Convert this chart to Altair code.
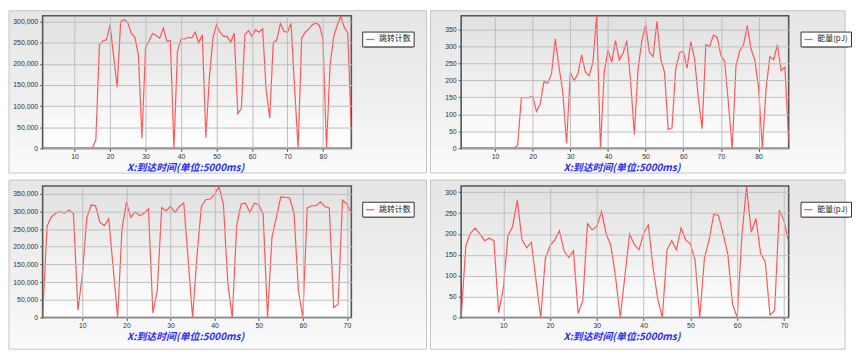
import altair as alt
import pandas as pd

# ---------------- data ----------------
x_top = list(range(1, 89))
hops_top = [0] * 15 + [
    20000, 245000, 255000, 257000, 293000, 219000, 145000, 300000, 305000, 298000,
    272000, 263000, 220000, 24000, 238000, 255000, 272000, 267000, 261000, 285000,
    254000, 255000, 0, 230000, 259000, 259000, 263000, 261000, 275000, 250000,
    269000, 25000, 168000, 261000, 293000, 275000, 265000, 265000, 251000, 273000,
    82000, 94000, 269000, 279000, 265000, 281000, 275000, 283000, 137000, 72000,
    250000, 257000, 296000, 277000, 275000, 296000, 145000, 0, 261000, 275000,
    283000, 293000, 297000, 291000, 259000, 0, 196000, 263000, 291000, 313000,
    287000, 273000, 39000]
energy_top = [0] * 15 + [
    9, 149, 149, 149, 153, 108, 131, 197, 192, 219,
    322, 239, 165, 14, 224, 199, 219, 275, 224, 214,
    253, 390, 0, 224, 289, 253, 317, 260, 280, 317,
    199, 41, 234, 317, 363, 283, 270, 373, 263, 224,
    56, 60, 234, 281, 286, 236, 314, 263, 149, 58,
    305, 300, 333, 327, 273, 256, 131, 0, 243, 287,
    304, 361, 292, 260, 180, 0, 175, 270, 261, 304,
    229, 239, 23]

x_bottom = list(range(1, 72))
hops_bottom = [
    0, 258000, 285000, 295000, 299000, 295000, 304000, 293000, 21000, 120000,
    281000, 318000, 316000, 269000, 260000, 279000, 140000, 0, 250000, 326000,
    283000, 299000, 288000, 295000, 307000, 13000, 77000, 311000, 302000, 314000,
    297000, 314000, 324000, 165000, 0, 175000, 314000, 333000, 335000, 349000,
    370000, 319000, 96000, 0, 260000, 321000, 323000, 297000, 323000, 319000,
    293000, 0, 227000, 283000, 341000, 340000, 338000, 295000, 77000, 0,
    310000, 316000, 316000, 327000, 314000, 310000, 28000, 38000, 332000, 321000,
    295000]
energy_bottom = [
    0, 172, 202, 214, 200, 184, 190, 184, 12, 69,
    196, 218, 281, 186, 167, 180, 89, 0, 142, 172,
    186, 208, 159, 144, 160, 10, 40, 225, 210, 218,
    254, 200, 172, 97, 0, 100, 200, 175, 162, 202,
    222, 121, 45, 0, 162, 184, 162, 214, 186, 176,
    137, 0, 143, 186, 248, 244, 200, 151, 32, 0,
    196, 313, 204, 237, 154, 133, 6, 17, 257, 232,
    180]

hops_name = "跳转计数"
energy_name = "能量(pJ)"
x_title = "X:到达时间(单位:5000ms)"

x_ticks_top = [10, 20, 30, 40, 50, 60, 70, 80]
x_ticks_bottom = [10, 20, 30, 40, 50, 60, 70]
y_ticks_hops_top = [0, 50000, 100000, 150000, 200000, 250000, 300000]
y_ticks_energy_top = [0, 50, 100, 150, 200, 250, 300, 350]
y_ticks_hops_bottom = [0, 50000, 100000, 150000, 200000, 250000, 300000, 350000]
y_ticks_energy_bottom = [0, 50, 100, 150, 200, 250, 300]

# ---------------- styling ----------------
LINE_COLOR = "#ff5555"
LABEL_FONT = "Liberation Sans"
CJK_FONT = "Noto Sans CJK SC"

panel_grad = alt.LinearGradient(
    gradient="linear", x1=0, y1=0, x2=0, y2=1,
    stops=[alt.GradientStop(color="#e6e6e6", offset=0),
           alt.GradientStop(color="#f0f0f0", offset=0.6),
           alt.GradientStop(color="#fbfbfb", offset=1)])
plot_grad = alt.LinearGradient(
    gradient="linear", x1=0, y1=0, x2=0, y2=1,
    stops=[alt.GradientStop(color="#e0e0e0", offset=0),
           alt.GradientStop(color="#f1f1f1", offset=0.55),
           alt.GradientStop(color="#ffffff", offset=1)])

one = pd.DataFrame({"k": [0]})

axis_style = dict(
    zindex=1, grid=True, gridColor="#bdbdbd", gridWidth=1, domain=False,
    tickColor="#555555", tickSize=3,
    labelFont=LABEL_FONT, labelFontSize=7, labelColor="#333333",
)


def panel(xs, ys, name, xmax, ymax, xticks, yticks, fmt, w, h,
          bg_box, legend_x, legend_w, title_x):
    df = pd.DataFrame({"x": xs, "y": ys, "s": [name] * len(xs)})
    bx1, bx2, by1, by2 = bg_box
    bg = alt.Chart(one).mark_rect(fill=panel_grad, stroke="#c4c4c4", strokeWidth=1).encode(
        x=alt.value(bx1), x2=alt.value(bx2), y=alt.value(by1), y2=alt.value(by2))
    plot_bg = alt.Chart(one).mark_rect(fill=plot_grad, stroke="#555555", strokeWidth=1.6).encode(
        x=alt.value(0), x2=alt.value(w), y=alt.value(0), y2=alt.value(h))
    shadow = alt.Chart(one).mark_rect(fill="#666666").encode(
        x=alt.value(legend_x + 2), x2=alt.value(legend_x + legend_w + 2),
        y=alt.value(18), y2=alt.value(32))
    line = alt.Chart(df).mark_line(strokeWidth=1.2, clip=True).encode(
        x=alt.X("x:Q", scale=alt.Scale(domain=[1, xmax], nice=False, zero=False),
                axis=alt.Axis(values=xticks, title=x_title, titleX=title_x,
                              titleAnchor="middle", titleAlign="center",
                              titleBaseline="top",
                              titleFont=CJK_FONT, titleFontSize=10,
                              titleFontStyle="italic", titleFontWeight="bold",
                              titleColor="#2a2aff", titlePadding=3,
                              labelPadding=1, **axis_style)),
        y=alt.Y("y:Q", scale=alt.Scale(domain=[0, ymax], nice=False),
                axis=alt.Axis(values=yticks, format=fmt, title=None,
                              labelPadding=2, **axis_style)),
        color=alt.Color("s:N", scale=alt.Scale(range=[LINE_COLOR]),
                        legend=alt.Legend(orient="none", legendX=legend_x, legendY=16,
                                          title=None, fillColor="white",
                                          strokeColor="#333333", padding=3,
                                          symbolType="stroke", symbolSize=70,
                                          symbolStrokeWidth=1.2,
                                          labelFont=CJK_FONT, labelFontSize=8,
                                          labelColor="#222222", zindex=2)),
    )
    return alt.layer(bg, plot_bg, shadow, line).properties(width=w, height=h)


p1 = panel(x_top, hops_top, hops_name, 88, 314000, x_ticks_top, y_ticks_hops_top, ",d",
           312, 134, (-34, 388, -5, 159), 323, 49, 144)
p2 = panel(x_top, energy_top, energy_name, 88, 390, x_ticks_top, y_ticks_energy_top, "d",
           331, 134, (-31, 388, -5, 159), 343, 46, 162)
p3 = panel(x_bottom, hops_bottom, hops_name, 71, 372000, x_ticks_bottom, y_ticks_hops_bottom, ",d",
           312, 133, (-34, 388, -6, 165), 323, 49, 144)
p4 = panel(x_bottom, energy_bottom, energy_name, 71, 315, x_ticks_bottom, y_ticks_energy_bottom, "d",
           331, 133, (-31, 388, -6, 165), 343, 46, 162)

chart = alt.concat(p1, p2, p3, p4, columns=2, spacing={"row": 38, "column": 111},
                   bounds="flush").resolve_scale(
    x="independent", y="independent", color="independent"
).properties(
    padding=0, background="white"
).configure_view(stroke=None)

chart.save("out.html", embed_options={"renderer": "svg", "actions": False})
